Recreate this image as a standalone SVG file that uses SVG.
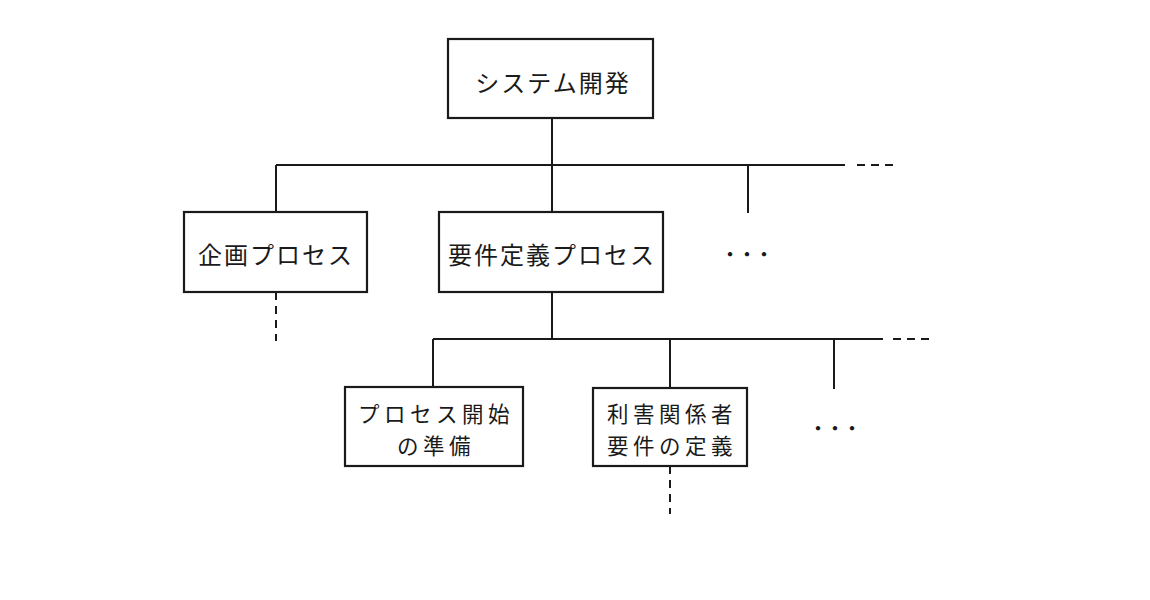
<svg xmlns="http://www.w3.org/2000/svg" width="1150" height="600" viewBox="0 0 1150 600">
<style>
.box{fill:#fff;stroke:#1a1a1a;stroke-width:2.2}
.ln{fill:none;stroke:#1a1a1a;stroke-width:2}
.dash{fill:none;stroke:#1a1a1a;stroke-width:2;stroke-dasharray:8 6}
.t{font-family:"Noto Sans CJK JP","Noto Sans",sans-serif;font-size:24px;letter-spacing:2px;fill:#1a1a1a;text-anchor:middle;dominant-baseline:central}
.t2{font-family:"Noto Sans CJK JP","Noto Sans",sans-serif;font-size:21.5px;letter-spacing:4.5px;fill:#1a1a1a;text-anchor:middle;dominant-baseline:central}
.dots{font-family:"Noto Sans CJK JP",sans-serif;font-size:17px;font-weight:bold;fill:#1a1a1a;text-anchor:middle;dominant-baseline:central}
</style>
<rect width="1150" height="600" fill="#fff"/>
<g id="connectors">
<line class="ln" x1="552" y1="118" x2="552" y2="212"/>
<line class="ln" x1="276" y1="165" x2="845" y2="165"/>
<line class="dash" x1="857" y1="165" x2="895" y2="165"/>
<line class="ln" x1="276" y1="165" x2="276" y2="212"/>
<line class="ln" x1="748" y1="165" x2="748" y2="213"/>
<line class="dash" x1="276" y1="292" x2="276" y2="341"/>
<line class="ln" x1="552" y1="292" x2="552" y2="339"/>
<line class="ln" x1="433" y1="339" x2="883" y2="339"/>
<line class="dash" x1="893" y1="339" x2="930" y2="339"/>
<line class="ln" x1="433" y1="339" x2="433" y2="387"/>
<line class="ln" x1="670" y1="339" x2="670" y2="388"/>
<line class="ln" x1="834" y1="339" x2="834" y2="389"/>
<line class="dash" x1="670" y1="466" x2="670" y2="514"/>
</g>
<g id="node-system">
<rect class="box" x="448" y="39" width="205" height="79"/>
<text class="t" x="553" y="81">システム開発</text>
</g>
<g id="node-kikaku">
<rect class="box" x="184" y="212" width="183" height="80"/>
<text class="t" x="276" y="253">企画プロセス</text>
</g>
<g id="node-youken">
<rect class="box" x="439" y="212" width="224" height="80"/>
<text class="t" x="552" y="253">要件定義プロセス</text>
</g>
<g id="node-more1">
<text class="dots" x="747" y="253">・・・</text>
</g>
<g id="node-start">
<rect class="box" x="345" y="387" width="178" height="79"/>
<text class="t2"><tspan x="436" y="412">プロセス開始</tspan><tspan x="436" y="444">の準備</tspan></text>
</g>
<g id="node-stakeholder">
<rect class="box" x="593" y="388" width="154" height="78"/>
<text class="t2"><tspan x="672" y="412">利害関係者</tspan><tspan x="672" y="444">要件の定義</tspan></text>
</g>
<g id="node-more2">
<text class="dots" x="835" y="427">・・・</text>
</g>
</svg>
